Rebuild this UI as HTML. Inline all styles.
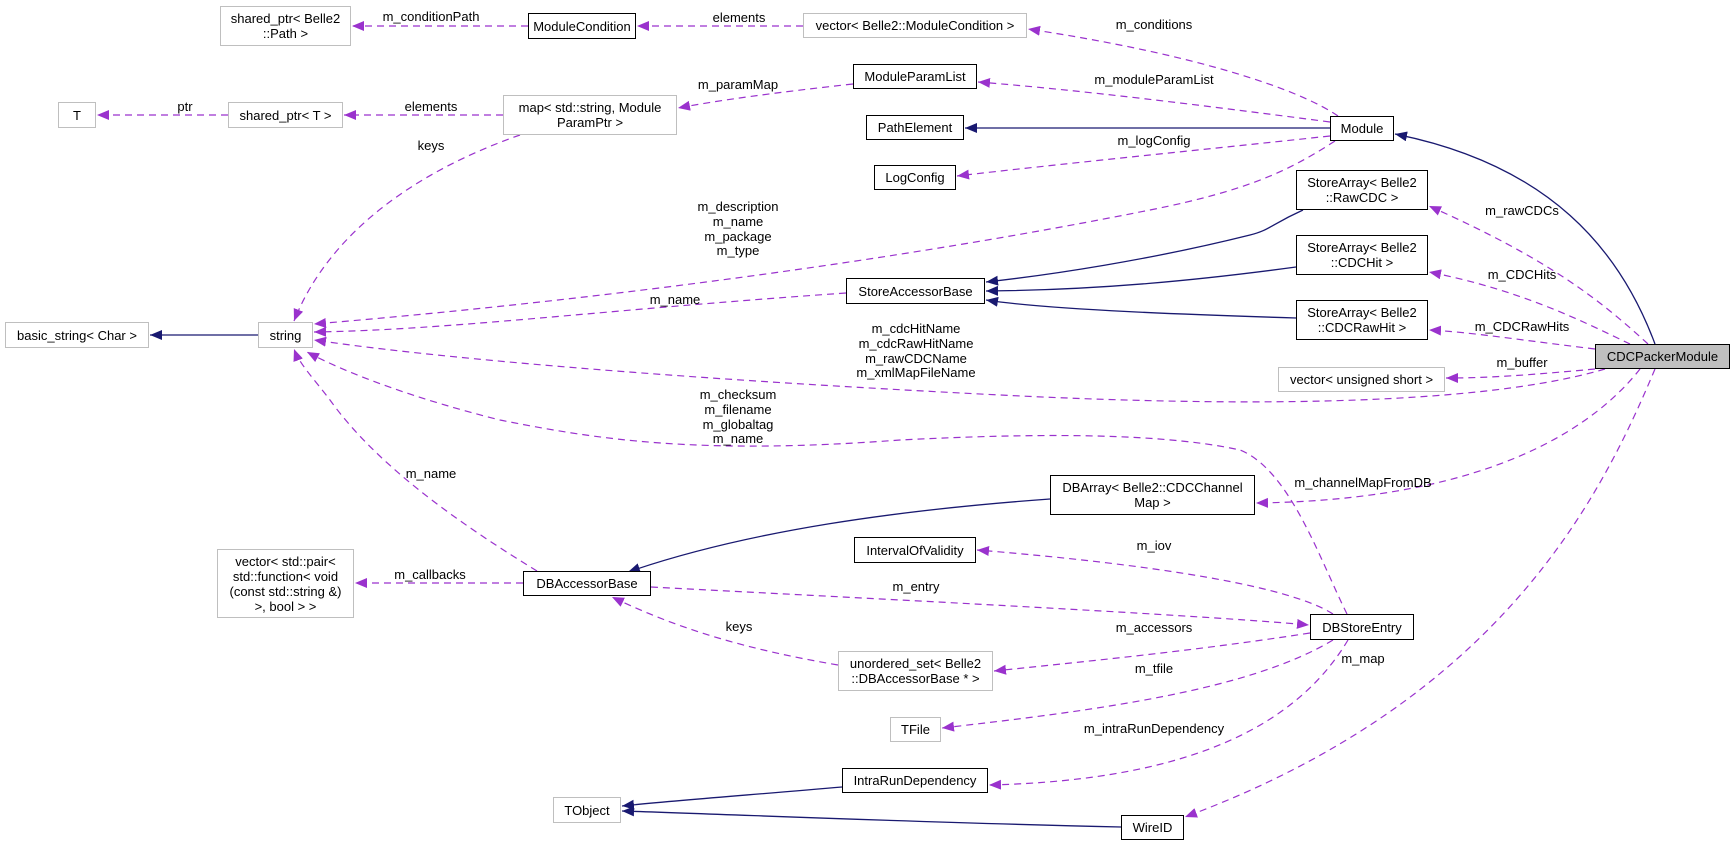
<!DOCTYPE html>
<html><head><meta charset="utf-8"><style>
html,body{margin:0;padding:0;background:#fff;}
#c{position:relative;width:1733px;height:846px;overflow:hidden;font-family:"Liberation Sans",Helvetica,sans-serif;}
.n{position:absolute;box-sizing:border-box;border:1px solid #000;background:#fff;font-size:13px;line-height:15px;text-align:center;display:flex;align-items:center;justify-content:center;color:#000;white-space:nowrap;}
.g{border-color:#bfbfbf;}
svg{position:absolute;left:0;top:0;}
svg text{font-family:"Liberation Sans",Helvetica,sans-serif;font-size:13px;fill:#000;text-anchor:middle;}
</style></head><body><div id="c">
<svg width="1733" height="846" viewBox="0 0 1733 846">
<defs>
<marker id="p" markerUnits="userSpaceOnUse" markerWidth="14" markerHeight="12" refX="12" refY="5" orient="auto"><path d="M0,0 L12,5 L0,10 z" fill="#9a32cd"/></marker>
<marker id="b" markerUnits="userSpaceOnUse" markerWidth="14" markerHeight="12" refX="12" refY="5" orient="auto"><path d="M0,0 L12,5 L0,10 z" fill="#191970"/></marker>
</defs>
<g fill="none" stroke="#9a32cd" stroke-width="1.2" stroke-dasharray="7,5" marker-end="url(#p)">
<path d="M528,26 L352,26"/>
<path d="M803,26 L637,26"/>
<path d="M1338,116 C1300,90 1200,55 1028,29"/>
<path d="M1330,122 C1200,105 1080,90 978,82"/>
<path d="M853,84 C780,92 720,100 678,108"/>
<path d="M503,115 L344,115"/>
<path d="M228,115 L97,115"/>
<path d="M520,135 C420,170 330,230 294,321"/>
<path d="M1330,136 C1200,150 1050,165 957,176"/>
<path d="M1335,141 C1290,170 1250,190 1150,210 C900,260 600,300 314,324"/>
<path d="M846,293 C600,310 450,330 314,332"/>
<path d="M1605,369 C1500,400 1300,410 1000,395 C700,380 450,360 314,340"/>
<path d="M1347,614 C1320,560 1290,470 1240,450 C1150,430 1000,435 900,440 C700,455 600,440 500,420 C420,400 350,375 307,352"/>
<path d="M537,571 C470,530 380,470 330,400 C315,380 300,365 294,349"/>
<path d="M1648,344 C1600,300 1550,260 1429,206"/>
<path d="M1630,344 C1580,320 1520,290 1429,272"/>
<path d="M1595,349 C1520,340 1470,332 1429,330"/>
<path d="M1595,369 C1530,375 1490,378 1446,378"/>
<path d="M1640,369 C1600,420 1500,500 1256,503"/>
<path d="M1655,369 C1600,500 1500,700 1185,817"/>
<path d="M1333,614 C1280,580 1100,560 977,550"/>
<path d="M651,587 C900,600 1200,615 1309,625"/>
<path d="M1310,633 C1200,650 1100,660 994,671"/>
<path d="M838,665 C750,650 680,630 612,597"/>
<path d="M523,583 L355,583"/>
<path d="M1333,640 C1250,690 1100,710 942,728"/>
<path d="M1348,640 C1300,720 1200,780 989,785"/>
</g>
<g fill="none" stroke="#191970" stroke-width="1.3" marker-end="url(#b)">
<path d="M1330,128 L965,128"/>
<path d="M1655,344 C1620,250 1550,165 1395,134"/>
<path d="M1303,210 C1270,225 1270,230 1250,235 C1150,260 1050,275 986,282"/>
<path d="M1296,267 C1200,280 1100,290 986,291"/>
<path d="M1296,318 C1200,315 1050,310 986,300"/>
<path d="M1050,499 C900,510 750,530 628,572"/>
<path d="M842,787 C750,795 680,800 622,806"/>
<path d="M1121,827 C900,822 750,815 622,811"/>
<path d="M258,335 L150,335"/>
</g>
<text x="431" y="21">m_conditionPath</text>
<text x="739" y="22">elements</text>
<text x="1154" y="29">m_conditions</text>
<text x="185" y="111">ptr</text>
<text x="431" y="111">elements</text>
<text x="431" y="150">keys</text>
<text x="738" y="89">m_paramMap</text>
<text x="1154" y="84">m_moduleParamList</text>
<text x="1154" y="145">m_logConfig</text>
<text x="738" y="211">m_description</text>
<text x="738" y="226">m_name</text>
<text x="738" y="241">m_package</text>
<text x="738" y="255">m_type</text>
<text x="675" y="304">m_name</text>
<text x="916" y="333">m_cdcHitName</text>
<text x="916" y="348">m_cdcRawHitName</text>
<text x="916" y="363">m_rawCDCName</text>
<text x="916" y="377">m_xmlMapFileName</text>
<text x="738" y="399">m_checksum</text>
<text x="738" y="414">m_filename</text>
<text x="738" y="429">m_globaltag</text>
<text x="738" y="443">m_name</text>
<text x="431" y="478">m_name</text>
<text x="430" y="579">m_callbacks</text>
<text x="916" y="591">m_entry</text>
<text x="739" y="631">keys</text>
<text x="1154" y="550">m_iov</text>
<text x="1154" y="632">m_accessors</text>
<text x="1154" y="673">m_tfile</text>
<text x="1154" y="733">m_intraRunDependency</text>
<text x="1363" y="663">m_map</text>
<text x="1363" y="487">m_channelMapFromDB</text>
<text x="1522" y="215">m_rawCDCs</text>
<text x="1522" y="279">m_CDCHits</text>
<text x="1522" y="331">m_CDCRawHits</text>
<text x="1522" y="367">m_buffer</text>
</svg>
<div class="n g" style="left:220px;top:6px;width:131px;height:40px;">shared_ptr&lt; Belle2<br>::Path &gt;</div>
<div class="n" style="left:528px;top:13px;width:108px;height:26px;">ModuleCondition</div>
<div class="n g" style="left:803px;top:13px;width:224px;height:25px;">vector&lt; Belle2::ModuleCondition &gt;</div>
<div class="n g" style="left:58px;top:102px;width:38px;height:26px;">T</div>
<div class="n g" style="left:228px;top:102px;width:115px;height:26px;">shared_ptr&lt; T &gt;</div>
<div class="n g" style="left:503px;top:95px;width:174px;height:40px;">map&lt; std::string, Module<br>ParamPtr &gt;</div>
<div class="n" style="left:853px;top:64px;width:124px;height:25px;">ModuleParamList</div>
<div class="n" style="left:866px;top:115px;width:98px;height:25px;">PathElement</div>
<div class="n" style="left:1330px;top:116px;width:64px;height:25px;">Module</div>
<div class="n" style="left:874px;top:165px;width:82px;height:25px;">LogConfig</div>
<div class="n" style="left:1296px;top:170px;width:132px;height:40px;">StoreArray&lt; Belle2<br>::RawCDC &gt;</div>
<div class="n" style="left:1296px;top:235px;width:132px;height:40px;">StoreArray&lt; Belle2<br>::CDCHit &gt;</div>
<div class="n" style="left:846px;top:278px;width:139px;height:26px;">StoreAccessorBase</div>
<div class="n" style="left:1296px;top:300px;width:132px;height:40px;">StoreArray&lt; Belle2<br>::CDCRawHit &gt;</div>
<div class="n g" style="left:5px;top:322px;width:144px;height:26px;">basic_string&lt; Char &gt;</div>
<div class="n g" style="left:258px;top:322px;width:55px;height:26px;">string</div>
<div class="n" style="left:1595px;top:344px;width:135px;height:25px;background:#bfbfbf;">CDCPackerModule</div>
<div class="n g" style="left:1278px;top:367px;width:167px;height:25px;">vector&lt; unsigned short &gt;</div>
<div class="n" style="left:1050px;top:475px;width:205px;height:40px;">DBArray&lt; Belle2::CDCChannel<br>Map &gt;</div>
<div class="n" style="left:854px;top:537px;width:122px;height:26px;">IntervalOfValidity</div>
<div class="n g" style="left:217px;top:549px;width:137px;height:69px;">vector&lt; std::pair&lt;<br>std::function&lt; void<br>(const std::string &amp;)<br>&gt;, bool &gt; &gt;</div>
<div class="n" style="left:523px;top:571px;width:128px;height:25px;">DBAccessorBase</div>
<div class="n" style="left:1310px;top:614px;width:104px;height:26px;">DBStoreEntry</div>
<div class="n g" style="left:838px;top:651px;width:155px;height:40px;">unordered_set&lt; Belle2<br>::DBAccessorBase * &gt;</div>
<div class="n g" style="left:890px;top:717px;width:51px;height:25px;">TFile</div>
<div class="n" style="left:842px;top:768px;width:146px;height:25px;">IntraRunDependency</div>
<div class="n g" style="left:553px;top:797px;width:68px;height:26px;">TObject</div>
<div class="n" style="left:1121px;top:815px;width:63px;height:25px;">WireID</div>
</div></body></html>
